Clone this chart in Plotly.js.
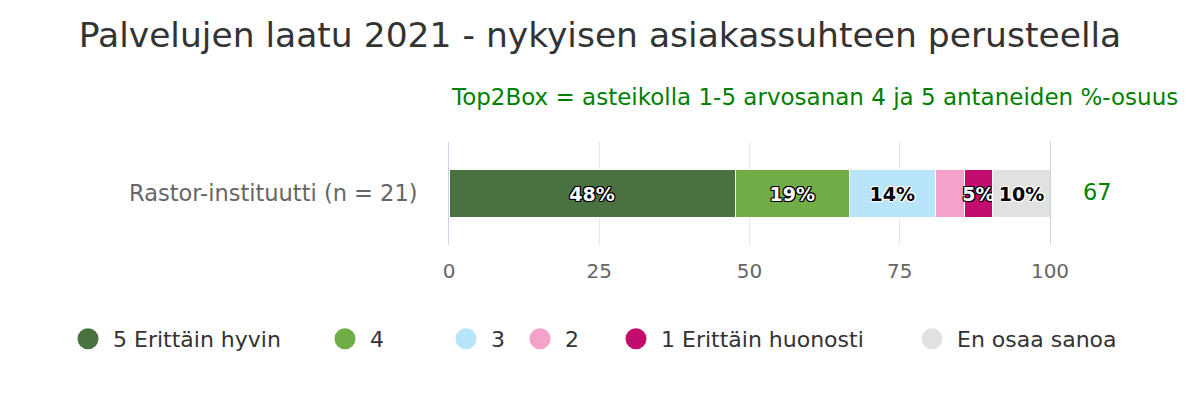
<!DOCTYPE html>
<html>
<head>
<meta charset="utf-8">
<script src="https://cdn.plot.ly/plotly-3.0.1.min.js"></script>
<style>
  html, body { margin: 0; padding: 0; background: #fff; }
  #kaavio { width: 1200px; height: 400px; }
</style>
</head>
<body>
<div id="kaavio"></div>
<script>
const kategoriat = ['Rastor-instituutti (n = 21)'];

const sarjat = ['5 Erittäin hyvin', '4', '3', '2', '1 Erittäin huonosti', 'En osaa sanoa'];
const osuudet = [47.6, 19.0, 14.3, 4.8, 4.8, 9.5];
const naytaArvo = [true, true, true, false, true, true];
const top2box = [67];

const varit = ['#4a7140', '#70ad47', '#b9e5fb', '#f4a2c9', '#c20d6f', '#e1e1e1'];
const tummaTeksti = [false, false, true, true, false, true];

const fontti = '"DejaVu Sans", Verdana, sans-serif';

// selitteen pallojen keskikohdat (px), jokainen oma legend
const selitteenX = [88, 345, 466, 540, 636, 932];

function reunus(vari) {
  return `-1px -1px 0 ${vari}, 1px -1px 0 ${vari}, -1px 1px 0 ${vari}, 1px 1px 0 ${vari}, 0 -1px 0 ${vari}, 0 1px 0 ${vari}, -1px 0 0 ${vari}, 1px 0 0 ${vari}`;
}

function legendId(i) {
  return i === 0 ? 'legend' : `legend${i + 1}`;
}

const palkit = sarjat.map((nimi, i) => ({
  type: 'bar',
  orientation: 'h',
  name: nimi,
  y: kategoriat,
  x: [osuudet[i]],
  text: [naytaArvo[i] ? `${Math.round(osuudet[i])}%` : ''],
  textposition: 'inside',
  insidetextanchor: 'middle',
  constraintext: 'none',
  textangle: 0,
  textfont: {
    family: fontti,
    size: 19,
    weight: 'bold',
    color: tummaTeksti[i] ? '#000' : '#fff',
    shadow: reunus(tummaTeksti[i] ? '#fff' : '#000')
  },
  marker: { color: varit[i], line: { color: '#fff', width: 1 } },
  showlegend: false,
  hoverinfo: 'skip'
}));

const selitteet = sarjat.map((nimi, i) => ({
  type: 'scatter',
  mode: 'markers',
  name: nimi,
  x: [null],
  y: [null],
  legend: legendId(i),
  marker: { color: varit[i], size: 16, symbol: 'circle', line: { color: varit[i], width: 5 } },
  showlegend: true
}));

const layout = {
  width: 1200,
  height: 400,
  paper_bgcolor: '#fff',
  plot_bgcolor: '#fff',
  font: { family: fontti, color: '#333' },
  barmode: 'stack',
  bargap: 0.53,
  title: {
    text: 'Palvelujen laatu 2021 - nykyisen asiakassuhteen perusteella',
    x: 0.5,
    xref: 'container',
    xanchor: 'center',
    y: 0.9125,
    yref: 'container',
    yanchor: 'middle',
    font: { family: fontti, size: 34.5, color: '#333' }
  },
  xaxis: {
    range: [0, 100],
    tickvals: [0, 25, 50, 75, 100],
    showgrid: true,
    gridcolor: '#e6e6e6',
    gridwidth: 1,
    zeroline: false,
    showline: false,
    ticks: '',
    ticklabelstandoff: 12,
    tickfont: { family: fontti, size: 20, color: '#666' },
    fixedrange: true
  },
  yaxis: {
    type: 'category',
    showline: true,
    mirror: true,
    linecolor: '#ccd6eb',
    linewidth: 1,
    showgrid: false,
    ticks: '',
    ticklabelstandoff: 26,
    tickfont: { family: fontti, size: 22.5, color: '#666' },
    fixedrange: true
  },
  annotations: [
    {
      text: 'Top2Box = asteikolla 1-5 arvosanan 4 ja 5 antaneiden %-osuus',
      xref: 'paper',
      yref: 'paper',
      x: 1,
      xanchor: 'right',
      xshift: 130,
      y: 1.437,
      yanchor: 'middle',
      showarrow: false,
      font: { family: fontti, size: 23, color: '#008000' }
    },
    {
      text: String(top2box[0]),
      xref: 'paper',
      yref: 'y',
      x: 1,
      y: kategoriat[0],
      xanchor: 'left',
      xshift: 31,
      yshift: 2,
      yanchor: 'middle',
      showarrow: false,
      font: { family: fontti, size: 22.5, color: '#008000' }
    }
  ],
  margin: { l: 449, r: 150, t: 142, b: 155, autoexpand: false }
};

selitteenX.forEach((keski, i) => {
  layout[legendId(i)] = {
    orientation: 'h',
    xref: 'container',
    x: (keski - 25) / 1200,
    xanchor: 'left',
    y: -0.9126,
    yanchor: 'middle',
    bgcolor: 'rgba(0,0,0,0)',
    traceorder: 'normal',
    itemsizing: 'trace',
    itemwidth: 40,
    font: { family: fontti, size: 22, color: '#333' }
  };
});

Plotly.newPlot('kaavio', [...palkit, ...selitteet], layout, { displayModeBar: false, staticPlot: true });
</script>
</body>
</html>
